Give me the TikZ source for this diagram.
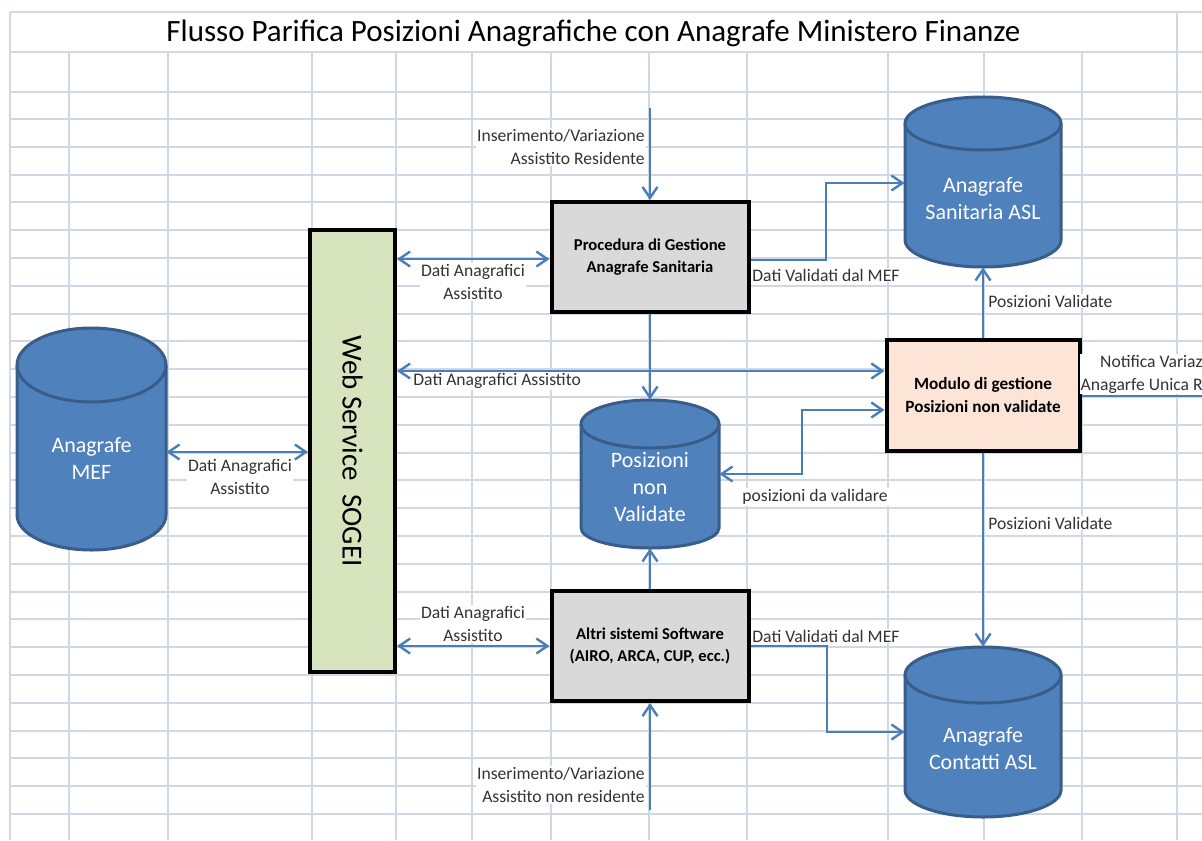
\documentclass[tikz,border=0pt]{standalone}
\usepackage{fontspec}
\setmainfont{Carlito}
\usetikzlibrary{arrows.meta,calc}
\definecolor{gridc}{HTML}{D0D7E5}
\definecolor{cylfill}{HTML}{4F81BD}
\definecolor{cylline}{HTML}{385D8A}
\definecolor{connblue}{HTML}{4A7EBB}
\definecolor{sogeifill}{HTML}{D7E4BD}
\definecolor{procfill}{HTML}{D9D9D9}
\definecolor{modfill}{HTML}{FCE5D6}
\newcommand\mytitlefont{\fontsize{15.5}{18}\selectfont}
\newcommand\mylblfont{\fontsize{8.8}{11.5}\selectfont}
\newcommand\myboxfont{\fontsize{8.3}{11}\selectfont\bfseries}
\newcommand\mycylfont{\fontsize{11}{13.5}\selectfont}
\newcommand\mysogeifont{\fontsize{14.5}{16}\selectfont}
\tikzset{
  gridline/.style={draw=gridc, line width=1pt},
  boxnode/.style={draw=black, line width=2pt, font=\myboxfont, align=center, inner sep=0pt},
  cylnode/.style={draw=none, inner sep=0pt},
  cylshape/.style={fill=cylfill, draw=cylline, line width=1.5pt},
  cyltext/.style={text=white, font=\mycylfont, align=center, inner sep=0pt},
  connline/.style={draw=connblue, line width=1.2pt},
  arr/.style={connline, -{Straight Barb[length=5.5pt,width=7.5pt]}},
  biarr/.style={connline, {Straight Barb[length=5.5pt,width=7.5pt]}-{Straight Barb[length=5.5pt,width=7.5pt]}},
  lbl/.style={font=\mylblfont, text=black!80, fill=white, inner sep=0.5pt, align=center},
}
\begin{document}
\begin{tikzpicture}[x=0.5pt,y=-0.5pt]
\useasboundingbox (0,0) rectangle (1202,840);
\clip (0,0) rectangle (1202,840);
\fill[white] (0,0) rectangle (1202,840);
% spreadsheet grid
\foreach \gx in {69,168,312,396,472,551,649,747,888,984,1082} \draw[gridline] (\gx,52) -- (\gx,840);
\foreach \gx in {10,1177} \draw[gridline] (\gx,12) -- (\gx,840);
\foreach \gy in {12,52,92} \draw[gridline] (10,\gy) -- (1202,\gy);
\foreach \k in {0,...,26} \draw[gridline] (10,{119+27.8*\k}) -- (1202,{119+27.8*\k});

% title
\node[font=\mytitlefont, inner sep=0pt] (title) at (593.5,33) {Flusso Parifica Posizioni Anagrafiche con Anagrafe Ministero Finanze};

% cylinders (bounding nodes)
\node[cylnode, minimum width=74.5pt, minimum height=111pt] (mef) at (91.5,439) {};
\node[cylnode, minimum width=78pt, minimum height=85pt] (asl) at (983,182) {};
\node[cylnode, minimum width=69pt, minimum height=74pt] (posiz) at (650,474) {};
\node[cylnode, minimum width=78pt, minimum height=85pt] (contatti) at (983,732) {};

% MEF
\filldraw[cylshape] (17,365) -- (17,515) arc[start angle=180,end angle=360,x radius=37.25pt,y radius=17.5pt] -- (166,365) arc[start angle=0,end angle=180,x radius=37.25pt,y radius=18.5pt] -- cycle;
\draw[cylshape, fill=none] (17,365) arc[start angle=180,end angle=360,x radius=37.25pt,y radius=18.5pt];
% ASL sanitaria
\filldraw[cylshape] (905,123.5) -- (905,240) arc[start angle=180,end angle=360,x radius=39pt,y radius=13.5pt] -- (1061,123.5) arc[start angle=0,end angle=180,x radius=39pt,y radius=13.25pt] -- cycle;
\draw[cylshape, fill=none] (905,123.5) arc[start angle=180,end angle=360,x radius=39pt,y radius=13.25pt];
% Posizioni non validate
\filldraw[cylshape] (581,424) -- (581,528) arc[start angle=180,end angle=360,x radius=34.5pt,y radius=10pt] -- (719,424) arc[start angle=0,end angle=180,x radius=34.5pt,y radius=12pt] -- cycle;
\draw[cylshape, fill=none] (581,424) arc[start angle=180,end angle=360,x radius=34.5pt,y radius=12pt];
% Contatti
\filldraw[cylshape] (905,675) -- (905,790) arc[start angle=180,end angle=360,x radius=39pt,y radius=13.5pt] -- (1061,675) arc[start angle=0,end angle=180,x radius=39pt,y radius=14pt] -- cycle;
\draw[cylshape, fill=none] (905,675) arc[start angle=180,end angle=360,x radius=39pt,y radius=14pt];

\node[cyltext] (meft) at (91.5,458) {Anagrafe\\MEF};
\node[cyltext] (aslt) at (983,199) {Anagrafe\\Sanitaria ASL};
\node[cyltext, text depth=0pt] (posizt) at (650,487) {Posizioni\\[0.2pt]non\\[0.2pt]Validate};
\node[cyltext] (contattit) at (983,749) {Anagrafe\\Contatti ASL};

% boxes
\node[boxnode, fill=sogeifill, minimum width=42.5pt, minimum height=221pt] (sogei) at (352.5,451) {\mysogeifont\mdseries\rotatebox{-90}{Web Service\ \ SOGEI}};
\node[boxnode, fill=procfill, minimum width=98.5pt, minimum height=55pt] (proc) at (650,257) {Procedura di Gestione\\Anagrafe Sanitaria};
\node[boxnode, fill=procfill, minimum width=98.5pt, minimum height=55pt] (altri) at (650,646) {Altri sistemi Software\\(AIRO, ARCA, CUP, ecc.)};
\node[boxnode, fill=modfill, minimum width=96.5pt, minimum height=55.5pt, font=\fontsize{8.6}{11.5}\selectfont\bfseries] (modulo) at (983,395.5) {Modulo di gestione\\Posizioni non validate};

% labels
\node[lbl] (l1) at (240,477) {Dati Anagrafici\\Assistito};
\node[lbl] (l2) at (473,282) {Dati Anagrafici\\Assistito};
\node[lbl, anchor=east, align=right] (l3) at (646,147) {Inserimento/Variazione\\Assistito Residente};
\node[lbl, anchor=west] (l4) at (751,275) {Dati Validati dal MEF};
\node[lbl, anchor=west] (l5) at (412,381) {Dati Anagrafici Assistito};
\node[lbl, anchor=west] (l6) at (741,497) {posizioni da validare};
\node[lbl, anchor=west] (l7) at (987,301) {Posizioni Validate};
\node[lbl, anchor=west] (l8) at (987,523) {Posizioni Validate};
\node[lbl, anchor=east, align=right] (l9) at (1204,374) {Notifica Variaz\\Anagarfe Unica R};
\node[lbl] (l10) at (473,624) {Dati Anagrafici\\Assistito};
\node[lbl, anchor=west] (l11) at (751,636) {Dati Validati dal MEF};
\node[lbl, anchor=east, align=right] (l12) at (646,785) {Inserimento/Variazione\\Assistito non residente};

% connectors
\coordinate (cm1) at ($(mef.east)+(0,13)$);
\draw[biarr] (cm1) -- (cm1 -| sogei.west);
\coordinate (c2) at ($(proc.west)+(0,2)$);
\draw[biarr] (c2 -| sogei.east) -- (c2);
\coordinate (in1) at (650,108);
\draw[arr] (in1) -- (proc.north);
\coordinate (c4) at ($(proc.east)+(0,3)$);
\coordinate (asl1) at ($(asl.west)+(0,1)$);
\draw[arr] (c4) -| (826,183) -- (asl1);
\draw[arr] (proc.south) -- (posiz.north);
\coordinate (c6) at ($(modulo.west)+(0,-24.5)$);
\draw[biarr] (c6 -| sogei.east) -- (c6);
\coordinate (c7) at ($(modulo.west)+(0,14.5)$);
\draw[biarr] (posiz.east) -| (802,410) -- (c7);
\draw[arr] (modulo.north) -- (asl.south);
\draw[arr] (modulo.south) -- (contatti.north);
\coordinate (c10) at ($(modulo.east)+(0,0.5)$);
\coordinate (out) at (1202,396);
\draw[connline] (c10) -- (out);
\draw[biarr] (altri.west -| sogei.east) -- (altri.west);
\draw[arr] (altri.north) -- (posiz.south);
\coordinate (in2) at (650,810);
\draw[arr] (in2) -- (altri.south);
\draw[arr] (altri.east) -| (827,732) -- (contatti.west);
\end{tikzpicture}
\end{document}
